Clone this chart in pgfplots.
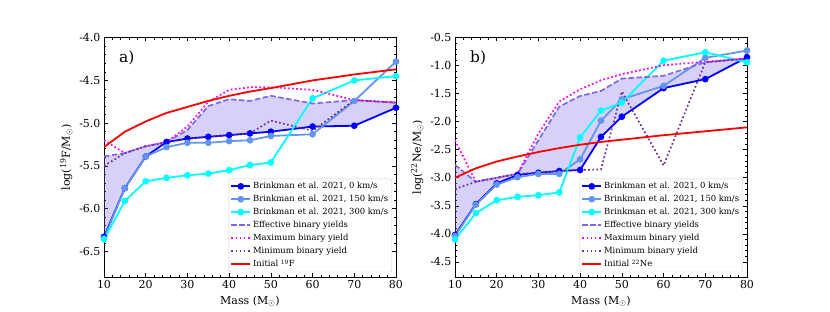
\documentclass[border=0pt]{standalone}
\usepackage{pgfplots}
\pgfplotsset{compat=1.18}
\usepackage{pgfplotstable}
\usepgfplotslibrary{fillbetween}
\usepackage{fontspec}
\setmainfont{DejaVu Serif}

\definecolor{cornflower}{HTML}{6495ED}
\definecolor{mslate}{HTML}{7B68EE}
\definecolor{rpurple}{HTML}{663399}
\definecolor{magentaC}{HTML}{FF00FF}
\definecolor{blueC}{HTML}{0000FF}
\definecolor{cyanC}{HTML}{00FFFF}

\pgfplotstableread{
m   z0     z150   z300   eff    mx     mn     init
10  -6.33  -6.35  -6.36  -5.39  -5.20  -5.50  -5.28
15  -5.76  -5.76  -5.91  -5.35  -5.35  -5.35  -5.10
20  -5.39  -5.39  -5.68  -5.27  -5.27  -5.27  -4.98
25  -5.22  -5.28  -5.64  -5.22  -5.22  -5.23  -4.88
30  -5.18  -5.23  -5.61  -5.08  -5.04  -5.18  -4.81
35  -5.16  -5.23  -5.59  -4.80  -4.75  -5.16  -4.74
40  -5.14  -5.21  -5.55  -4.72  -4.61  -5.14  -4.68
45  -5.12  -5.20  -5.49  -4.74  -4.58  -5.12  -4.63
50  -5.10  -5.15  -5.46  -4.68  -4.58  -4.97  -4.59
60  -5.04  -5.13  -4.71  -4.77  -4.61  -5.09  -4.50
70  -5.03  -4.74  -4.50  -4.73  -4.73  -4.73  -4.43
80  -4.82  -4.28  -4.45  -4.76  -4.76  -4.76  -4.37
}\tabF

\pgfplotstableread{
m   z0     z150   z300   eff    mx     mn     init
10  -4.02  -4.04  -4.10  -2.77  -2.33  -3.20  -3.00
15  -3.47  -3.48  -3.63  -3.07  -3.07  -3.07  -2.83
20  -3.10  -3.12  -3.40  -3.00  -3.00  -3.00  -2.71
25  -2.95  -2.99  -3.34  -2.93  -2.92  -2.93  -2.62
30  -2.91  -2.93  -3.31  -2.33  -2.21  -2.91  -2.54
35  -2.88  -2.93  -3.26  -1.73  -1.64  -2.88  -2.47
40  -2.86  -2.67  -2.28  -1.54  -1.42  -2.86  -2.41
45  -2.27  -1.98  -1.80  -1.45  -1.26  -2.85  -2.36
50  -1.91  -1.60  -1.66  -1.23  -1.15  -1.46  -2.32
60  -1.40  -1.36  -0.91  -1.18  -0.99  -2.78  -2.24
70  -1.24  -0.86  -0.76  -0.94  -0.93  -0.94  -2.17
80  -0.85  -0.73  -0.94  -0.87  -0.87  -0.87  -2.10
}\tabNe

\pgfplotsset{
  panel/.style={
    scale only axis, width=292pt, height=239.3pt,
    xmin=10, xmax=80, xtick={10,20,...,80}, minor x tick num=4,
    minor y tick num=4,
    tick align=inside, xtick pos=both, ytick pos=both,
    xticklabel pos=lower, yticklabel pos=left,
    major tick length=3.5pt, minor tick length=2pt,
    every tick/.style={black, line width=0.6pt},
    axis line style={line width=0.8pt},
    ticklabel style={font=\fontsize{11}{13}\selectfont},
    label style={font=\fontsize{11}{13}\selectfont},
    /pgf/number format/assume math mode=true,
    xlabel={Mass (M$_\odot$)},
    legend cell align=left,
    legend style={at={(0.986,0.02)}, anchor=south east, draw=black!18, rounded corners=2pt,
      font=\fontsize{8.4}{10}\selectfont, inner sep=1.6pt, row sep=1.0pt, fill=white},
    legend image code/.code={\draw[mark repeat=2,mark phase=2] plot coordinates {(0cm,0cm) (0.33cm,0cm) (0.66cm,0cm)};},
  },
  z0/.style={blueC, line width=1.8pt, mark=*, mark size=2.4pt},
  z150/.style={cornflower, line width=1.8pt, mark=*, mark size=2.4pt},
  z300/.style={cyanC, line width=1.8pt, mark=*, mark size=2.4pt},
  effs/.style={mslate, line width=1.7pt, dash pattern=on 5.5pt off 2.5pt},
  mxs/.style={magentaC, line width=1.7pt, dash pattern=on 1.7pt off 2.4pt},
  mns/.style={rpurple, line width=1.7pt, dash pattern=on 1.7pt off 2.4pt},
  inits/.style={red, line width=1.8pt},
}

\begin{document}
\begin{tikzpicture}

\begin{axis}[panel, at={(104pt,35pt)}, anchor=south west,
  ymin=-6.8, ymax=-4.0, ytick={-6.5,-6.0,...,-4.0},
  yticklabel style={/pgf/number format/.cd, fixed, fixed zerofill, precision=1},
  ylabel={log(\textsuperscript{19}F/M$_\odot$)}]
  \addplot[draw=none, name path=effA, forget plot] table[x=m,y=eff] {\tabF};
  \addplot[draw=none, name path=zA, forget plot] table[x=m,y=z0] {\tabF};
  \addplot[fill=mslate, fill opacity=0.3, draw=none, forget plot] fill between[of=effA and zA];
  \addplot[z0] table[x=m,y=z0] {\tabF};
  \addlegendentry{Brinkman et al. 2021, 0 km/s}
  \addplot[z150] table[x=m,y=z150] {\tabF};
  \addlegendentry{Brinkman et al. 2021, 150 km/s}
  \addplot[z300] table[x=m,y=z300] {\tabF};
  \addlegendentry{Brinkman et al. 2021, 300 km/s}
  \addplot[effs] table[x=m,y=eff] {\tabF};
  \addlegendentry{Effective binary yields}
  \addplot[mxs] table[x=m,y=mx] {\tabF};
  \addlegendentry{Maximum binary yield}
  \addplot[mns] table[x=m,y=mn] {\tabF};
  \addlegendentry{Minimum binary yield}
  \addplot[inits] table[x=m,y=init] {\tabF};
  \addlegendentry{Initial \textsuperscript{19}F}
  \node[anchor=west, font=\fontsize{15.5}{17}\selectfont] at (rel axis cs:0.04,0.915) {a)};
\end{axis}

\begin{axis}[panel, at={(455pt,35pt)}, anchor=south west,
  ymin=-4.77, ymax=-0.5, ytick={-4.5,-4.0,...,-0.5},
  yticklabel style={/pgf/number format/.cd, fixed, fixed zerofill, precision=1},
  ylabel={log(\textsuperscript{22}Ne/M$_\odot$)}]
  \addplot[draw=none, name path=effB, forget plot] table[x=m,y=eff] {\tabNe};
  \addplot[draw=none, name path=zB, forget plot] table[x=m,y=z0] {\tabNe};
  \addplot[fill=mslate, fill opacity=0.3, draw=none, forget plot] fill between[of=effB and zB];
  \addplot[z0] table[x=m,y=z0] {\tabNe};
  \addlegendentry{Brinkman et al. 2021, 0 km/s}
  \addplot[z150] table[x=m,y=z150] {\tabNe};
  \addlegendentry{Brinkman et al. 2021, 150 km/s}
  \addplot[z300] table[x=m,y=z300] {\tabNe};
  \addlegendentry{Brinkman et al. 2021, 300 km/s}
  \addplot[effs] table[x=m,y=eff] {\tabNe};
  \addlegendentry{Effective binary yields}
  \addplot[mxs] table[x=m,y=mx] {\tabNe};
  \addlegendentry{Maximum binary yield}
  \addplot[mns] table[x=m,y=mn] {\tabNe};
  \addlegendentry{Minimum binary yield}
  \addplot[inits] table[x=m,y=init] {\tabNe};
  \addlegendentry{Initial \textsuperscript{22}Ne}
  \node[anchor=west, font=\fontsize{15.5}{17}\selectfont] at (rel axis cs:0.04,0.915) {b)};
\end{axis}
\path (0,0) rectangle (830pt,312pt);
\end{tikzpicture}
\end{document}
